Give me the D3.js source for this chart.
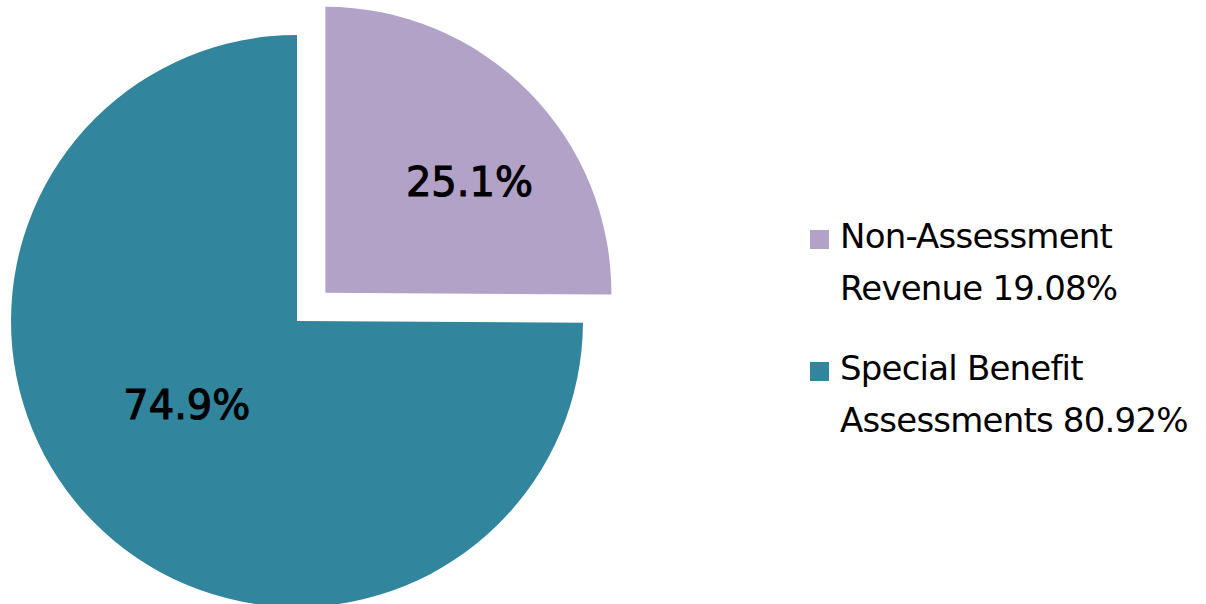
<!DOCTYPE html>
<html>
<head>
<meta charset="utf-8">
<script src="https://cdn.jsdelivr.net/npm/d3@7"></script>
<style>
  body { margin: 0; background: #fff; }
  svg { display: block; }
</style>
</head>
<body>
<div id="chart"></div>
<script>
// chart data
const categories = ["Non-Assessment", "Special Benefit"];
const sliceValues = [25.1, 74.9];
const sliceLabels = ["25.1%", "74.9%"];
const legendLines = [["Non-Assessment", "Revenue 19.08%"], ["Special Benefit", "Assessments 80.92%"]];
const colors = ["#b3a2c7", "#31859c"];

const width = 1206, height = 604;
const cx = 297, cy = 321, radius = 286;
const explode = 40; // first slice is pulled out

const svg = d3.select("#chart")
    .append("svg")
    .attr("width", width)
    .attr("height", height);

const pie = d3.pie().sort(null).value(d => d)(sliceValues);

const arc = d3.arc().innerRadius(0).outerRadius(radius);

// label placement per slice (radius, angle shift), tuned to look like the excel output
const labelRadius = [0.63 * radius, 0.49 * radius];
const labelShift = [0.12, 0.14];

const g = svg.append("g").attr("transform", `translate(${cx},${cy})`);

const slices = g.selectAll("g.slice")
    .data(pie)
    .join("g")
    .attr("class", "slice")
    .attr("transform", (d, i) => {
        if (i !== 0) return null;
        let mid = (d.startAngle + d.endAngle) / 2;
        return `translate(${explode * Math.sin(mid)},${-explode * Math.cos(mid)})`;
    });

slices.append("path")
    .attr("d", arc)
    .attr("fill", (d, i) => colors[i]);

slices.append("text")
    .attr("x", (d, i) => labelRadius[i] * Math.sin((d.startAngle + d.endAngle) / 2 + labelShift[i]) + 2)
    .attr("y", (d, i) => -labelRadius[i] * Math.cos((d.startAngle + d.endAngle) / 2 + labelShift[i]))
    .attr("text-anchor", "middle")
    .attr("dominant-baseline", "central")
    .style("font-family", "DejaVu Sans")
    .style("font-size", "40px")
    .style("fill", "#000")
    .style("stroke", "#000")
    .style("stroke-width", "1.1px")
    .text((d, i) => sliceLabels[i]);

// legend
const legend = svg.append("g").attr("transform", "translate(810,230)");
const item = legend.selectAll("g.item")
    .data(categories)
    .join("g")
    .attr("class", "item")
    .attr("transform", (d, i) => `translate(0,${i * 132})`);

item.append("rect")
    .attr("width", 19)
    .attr("height", 19)
    .attr("fill", (d, i) => colors[i]);

item.append("text")
    .attr("x", 30)
    .attr("y", 18)
    .style("font-family", "DejaVu Sans")
    .style("font-size", "34px")
    .style("letter-spacing", "-0.8px")
    .style("fill", "#000")
    .selectAll("tspan")
    .data((d, i) => legendLines[i])
    .join("tspan")
    .attr("x", 30)
    .attr("dy", (d, j) => j === 0 ? 0 : 52)
    .text(d => d);
</script>
</body>
</html>
